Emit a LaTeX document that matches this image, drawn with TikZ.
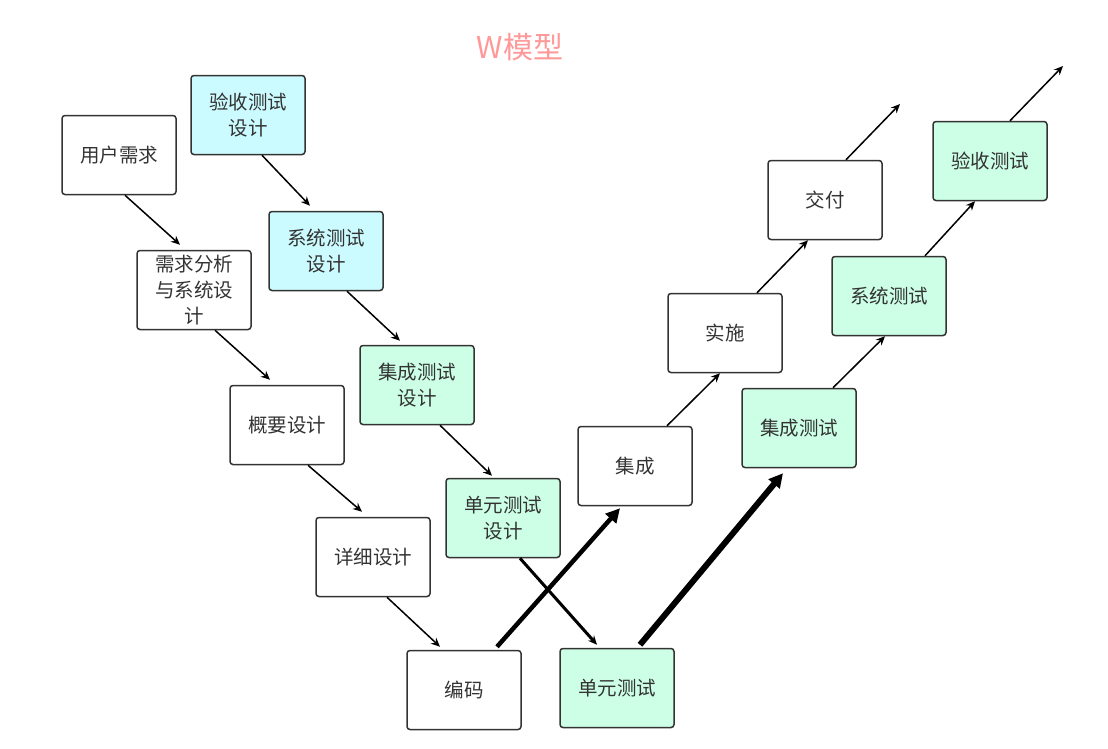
\documentclass[tikz,border=0pt]{standalone}
\usepackage{fontspec}
\setmainfont{Noto Sans CJK SC}
\usetikzlibrary{arrows.meta,calc}
\definecolor{boxline}{HTML}{333333}
\definecolor{cyanfill}{HTML}{CCFBFF}
\definecolor{greenfill}{HTML}{CCFFE6}
\definecolor{titlepink}{HTML}{FF9999}
\tikzset{
  stage/.style = {draw = boxline, line width = 1.5, rounded corners = 3, minimum width = 114, minimum height = 79,
    text width = 104, align = center, text = boxline, font = \fontsize{19.5}{26}\selectfont, inner sep = 0},
  plan/.style = {stage, fill = cyanfill},
  test/.style = {stage, fill = greenfill},
  flow/.style = {-{Stealth[length = 9, width = 8]}, line width = 1.5},
  bold/.style = {-{Triangle[length = 14, width = 14]}, line width = 4.5}
}
\begin{document}
\begin{tikzpicture}[x = 1pt, y = -1pt]
\useasboundingbox (0, 0) rectangle (1108, 748);
\node [font = \fontsize{30}{34}\selectfont, text = titlepink] (title) at (520, 47) {W模型};
% left branch
\node [stage] (yh) at (119, 155) {用户需求};
\node [stage] (xq) at (194, 290) {需求分析\\与系统设\\计};
\node [stage] (gy) at (287, 425) {概要设计};
\node [stage] (xx) at (373, 557) {详细设计};
\node [stage] (bm) at (464, 690) {编码};
% test design
\node [plan] (ysd) at (248, 115) {验收测试\\设计};
\node [plan] (xtd) at (326, 251) {系统测试\\设计};
\node [test] (jcd) at (417, 385) {集成测试\\设计};
\node [test] (dyd) at (503, 518) {单元测试\\设计};
% right branch
\node [test] (dy) at (617, 688) {单元测试};
\node [stage] (jc) at (635, 466) {集成};
\node [stage] (ss) at (725, 333) {实施};
\node [stage] (jf) at (825, 200) {交付};
\node [test] (jct) at (799, 428) {集成测试};
\node [test] (xt) at (889, 296) {系统测试};
\node [test] (ys) at (990, 161) {验收测试};
\coordinate (out1) at (900, 104);
\coordinate (out2) at (1063, 66);
% connectors
\draw [flow] ($(yh.south) + (6, 0)$) -- ($(xq.north) + (-14, -5)$);
\draw [flow] ($(xq.south) + (21, 0)$) -- ($(gy.north) + (-17, -5)$);
\draw [flow] ($(gy.south) + (21, 0)$) -- ($(xx.north) + (-11, -5)$);
\draw [flow] ($(xx.south) + (14, 0)$) -- ($(bm.north) + (-24, -3)$);
\draw [flow] ($(ysd.south) + (14, 0)$) -- ($(xtd.north) + (-16, -5)$);
\draw [flow] ($(xtd.south) + (21, 0)$) -- ($(jcd.north) + (-17, -4)$);
\draw [flow] ($(jcd.south) + (23, 0)$) -- ($(dyd.north) + (-11, -2)$);
\draw [flow, line width = 3] ($(dyd.south) + (17, 0)$) -- ($(dy.north) + (-20, -3)$);
\draw [bold] ($(bm.north) + (33, -3)$) -- ($(jc.south) + (-15, 2)$);
\draw [bold, line width = 6] ($(dy.north) + (23, -3)$) -- ($(jct.south) + (-16, 5)$);
\draw [flow] ($(jc.north) + (32, 0)$) -- ($(ss.south) + (-5, 0)$);
\draw [flow] ($(ss.north) + (32, 0)$) -- ($(jf.south) + (-17, 0)$);
\draw [flow] ($(jf.north) + (21, 0)$) -- (out1);
\draw [flow] ($(jct.north) + (34, 0)$) -- ($(xt.south) + (-4, 0)$);
\draw [flow] ($(xt.north) + (36, 0)$) -- ($(ys.south) + (-15, 0)$);
\draw [flow] ($(ys.north) + (20, 0)$) -- (out2);
\end{tikzpicture}
\end{document}
